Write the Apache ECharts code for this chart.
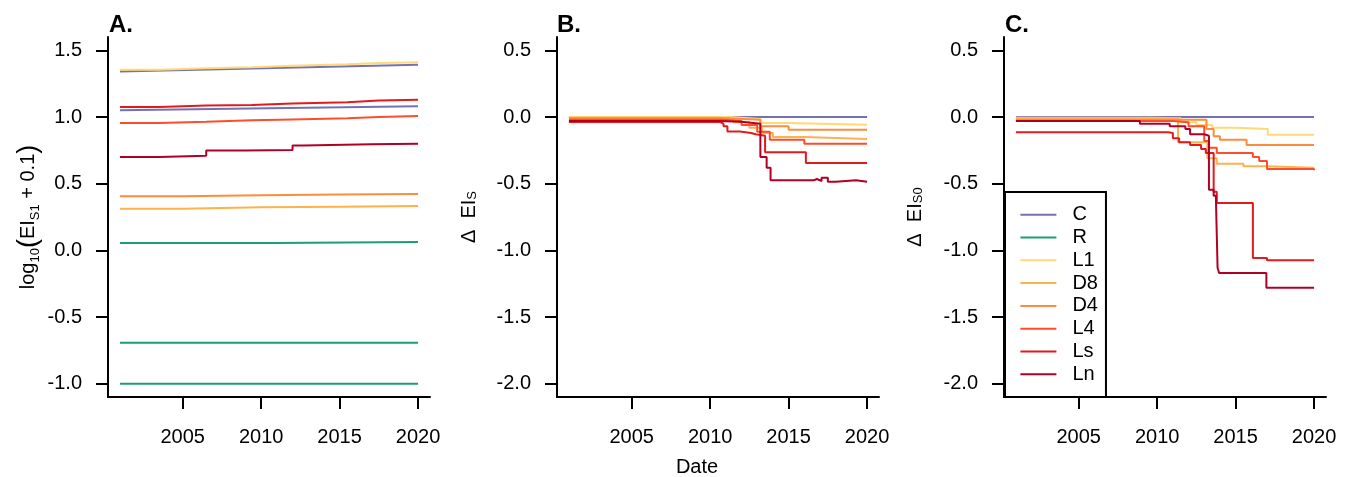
<!DOCTYPE html>
<html>
<head>
<meta charset="utf-8">
<script src="https://cdn.jsdelivr.net/npm/echarts@6/dist/echarts.min.js"></script>
<style>
  html, body { margin: 0; padding: 0; background: #fff; }
  #chart { width: 1356px; height: 477px; }
</style>
</head>
<body>
<div id="chart"></div>
<script>
// group names and colours (legend order)
const groups = ['C', 'R', 'L1', 'D8', 'D4', 'L4', 'Ls', 'Ln'];
const colors = ['#7570B3', '#1B9E77', '#FED976', '#FEB24C', '#FD8D3C', '#FC4E2A', '#E31A1C', '#B10026'];

const xTicks = [2005, 2010, 2015, 2020];
const yTicksA = [-1, -0.5, 0, 0.5, 1, 1.5];
const yTicksBC = [-2, -1.5, -1, -0.5, 0, 0.5];

// A. log10(EI_S1 + 0.1)  -- [year, value], value holds from that year on
const aC1 = [[2001, 1.342], [2020, 1.392]];
const aC2 = [[2001, 1.05], [2020, 1.08]];
const aR1 = [[2001, 0.055], [2010.8, 0.062], [2020, 0.062]];
const aR2 = [[2001, -0.694], [2020, -0.694]];
const aR3 = [[2001, -1.0], [2020, -1.0]];
const aL1 = [[2001, 1.355], [2003.5, 1.365], [2006.5, 1.374], [2009.4, 1.385], [2012, 1.395], [2015.5, 1.405], [2017.5, 1.41], [2020, 1.412]];
const aD8 = [[2001, 0.312], [2005, 0.323], [2010, 0.327], [2015, 0.332], [2020, 0.335]];
const aD4 = [[2001, 0.405], [2005, 0.414], [2010, 0.418], [2015, 0.423], [2020, 0.426]];
const aL4 = [[2001, 0.955], [2003.5, 0.965], [2006.5, 0.975], [2009.4, 0.982], [2012, 0.99], [2015.5, 1.0], [2017.5, 1.008], [2020, 1.012]];
const aLs = [[2001, 1.075], [2003.5, 1.086], [2006.5, 1.09], [2009.4, 1.102], [2012, 1.11], [2015.5, 1.124], [2017.5, 1.13], [2020, 1.132]];
const aLn = [[2001, 0.70], [2003.5, 0.71], [2006.5, 0.748], [2009, 0.752], [2012, 0.787], [2012.7, 0.795], [2017, 0.80], [2020, 0.80]];

// B. delta EI_S
const bC = [[2001, 0], [2020, 0]];
const bL1 = [[2001, 0], [2011.3, -0.015], [2013.2, -0.045], [2015, -0.058], [2020, -0.062]];
const bD8 = [[2001, -0.005], [2010.5, -0.015], [2011.5, -0.04], [2012.5, -0.08], [2013.3, -0.12], [2014, -0.15], [2016, -0.165], [2020, -0.165]];
const bD4 = [[2001, -0.01], [2011, -0.02], [2013.2, -0.07], [2015, -0.095], [2020, -0.097]];
const bL4 = [[2001, -0.02], [2010.8, -0.03], [2012, -0.06], [2013, -0.11], [2013.8, -0.17], [2016, -0.2], [2020, -0.205]];
const bLs = [[2001, -0.037], [2010.6, -0.05], [2010.85, -0.07], [2011.1, -0.108], [2011.9, -0.12], [2012.6, -0.13], [2012.9, -0.14], [2013.5, -0.265], [2016.1, -0.345], [2020, -0.345]];
const bLn = [[2001, -0.03], [2010.5, -0.035], [2012, -0.05], [2013.2, -0.3], [2013.6, -0.38], [2013.85, -0.475], [2014.3, -0.49], [2014.4, -0.475], [2016.6, -0.465], [2016.8, -0.48], [2017.1, -0.455], [2017.5, -0.485], [2018, -0.475], [2019.3, -0.485], [2020, -0.485]];

// C. delta EI_S0
const cC = [[2001, 0], [2020, 0]];
const cL1 = [[2001, -0.005], [2009.5, -0.01], [2011.5, -0.04], [2012.5, -0.06], [2013.5, -0.08], [2015, -0.09], [2017.05, -0.133], [2020, -0.133]];
const cD8 = [[2001, -0.01], [2011.33, -0.19], [2013.2, -0.31], [2013.8, -0.35], [2015.5, -0.37], [2017, -0.38], [2020, -0.38]];
const cD4 = [[2001, -0.02], [2013.14, -0.09], [2013.6, -0.145], [2014, -0.17], [2015.7, -0.21], [2020, -0.21]];
const cL4 = [[2001, -0.03], [2011, -0.04], [2012, -0.07], [2013, -0.18], [2013.3, -0.23], [2013.8, -0.27], [2016.1, -0.3], [2016.5, -0.33], [2017, -0.39], [2020, -0.40]];
const cLs = [[2001, -0.115], [2010.7, -0.12], [2011, -0.16], [2011.4, -0.19], [2012.1, -0.21], [2012.8, -0.24], [2013.1, -0.27], [2013.6, -0.56], [2013.8, -0.645], [2016.1, -1.057], [2017, -1.075], [2020, -1.075]];
const cLn = [[2001, -0.03], [2008.9, -0.05], [2010.8, -0.07], [2011.8, -0.09], [2012.1, -0.13], [2013, -0.14], [2013.3, -0.545], [2013.6, -0.59], [2013.75, -0.64], [2013.85, -1.13], [2013.95, -1.17], [2016.96, -1.28], [2020, -1.28]];

const FONT = "'Liberation Sans', Arial, Helvetica, sans-serif";
const X_MIN = 2000.24, X_MAX = 2020.76;

const panels = [
  [['C', aC1, false], ['C', aC2, false], ['R', aR1], ['R', aR2], ['R', aR3], ['L1', aL1], ['D8', aD8], ['D4', aD4], ['L4', aL4], ['Ls', aLs], ['Ln', aLn]],
  [['C', bC], ['L1', bL1], ['D8', bD8], ['D4', bD4], ['L4', bL4], ['Ls', bLs], ['Ln', bLn]],
  [['C', cC], ['L1', cL1], ['D8', cD8], ['D4', cD4], ['L4', cL4], ['Ls', cLs], ['Ln', cLn]],
];

const series = [];
panels.forEach((list, gi) => {
  list.forEach(([name, data, stepped]) => {
    series.push({
      name: name,
      type: 'line',
      xAxisIndex: gi,
      yAxisIndex: gi,
      data: data,
      step: stepped === false ? false : 'end',
      showSymbol: false,
      symbol: 'none',
      silent: true,
      color: colors[groups.indexOf(name)],
      lineStyle: { width: 2 },
    });
  });
});

const axisLine = { show: true, onZero: false, lineStyle: { color: '#000', width: 2 } };
const tickStyle = { color: '#000', width: 2 };

function xAxisFor (gi, extra) {
  return Object.assign({
    type: 'value',
    gridIndex: gi,
    min: X_MIN,
    max: X_MAX,
    axisLine: axisLine,
    axisTick: { show: true, inside: false, length: 12, lineStyle: tickStyle, customValues: xTicks },
    axisLabel: {
      customValues: xTicks, margin: 30, fontSize: 20, color: '#000', fontFamily: FONT,
      formatter: (v) => String(Math.round(v)),
    },
    splitLine: { show: false },
  }, extra || {});
}

const subRich = {
  n: { fontSize: 20, fontFamily: FONT, color: '#000' },
  s: { fontSize: 13, fontFamily: FONT, color: '#000', verticalAlign: 'bottom' },
  p: { fontSize: 27, fontFamily: FONT, color: '#000' },
};

function yAxisFor (gi, min, max, ticks, name, gap) {
  return {
    type: 'value',
    gridIndex: gi,
    min: min,
    max: max,
    axisLine: axisLine,
    axisTick: { show: true, inside: false, length: 12, lineStyle: tickStyle, customValues: ticks },
    axisLabel: {
      customValues: ticks, margin: 26, fontSize: 20, color: '#000', fontFamily: FONT,
      formatter: (v) => v.toFixed(1),
    },
    splitLine: { show: false },
    name: name,
    nameLocation: 'middle',
    nameGap: gap,
    nameRotate: 90,
    nameTextStyle: { fontSize: 20, fontFamily: FONT, color: '#000', rich: subRich },
  };
}

const titleStyle = { fontSize: 24, fontWeight: 'bold', color: '#000', fontFamily: FONT };

const option = {
  animation: false,
  backgroundColor: '#fff',
  title: [
    { text: 'A.', left: 109, top: 13, padding: 0, textStyle: titleStyle },
    { text: 'B.', left: 557, top: 13, padding: 0, textStyle: titleStyle },
    { text: 'C.', left: 1005, top: 13, padding: 0, textStyle: titleStyle },
  ],
  grid: [
    { left: 108, top: 37, width: 322, height: 360, outerBoundsMode: 'none' },
    { left: 557, top: 37, width: 322, height: 360, outerBoundsMode: 'none' },
    { left: 1004, top: 37, width: 322, height: 360, outerBoundsMode: 'none' },
  ],
  xAxis: [
    xAxisFor(0),
    xAxisFor(1, {
      name: 'Date',
      nameLocation: 'middle',
      nameGap: 60,
      nameTextStyle: { fontSize: 20, fontFamily: FONT, color: '#000', padding: [0, 42, 0, 0] },
    }),
    xAxisFor(2),
  ],
  yAxis: [
    yAxisFor(0, -1.1, 1.6, yTicksA, '{n|log}{s|10}{p|(}{n|EI}{s|S1}{n| + 0.1}{p|)}', 66),
    yAxisFor(1, -2.1, 0.6, yTicksBC, '{n|Δ  EI}{s|S}', 78),
    yAxisFor(2, -2.1, 0.6, yTicksBC, '{n|Δ  EI}{s|S0}', 79),
  ],
  legend: {
    data: groups,
    orient: 'vertical',
    left: 1005,
    top: 192,
    icon: 'rect',
    itemWidth: 36,
    itemHeight: 2,
    itemGap: 2.8,
    padding: [12.7, 8, 12.6, 15.4],
    borderColor: '#000',
    borderWidth: 2,
    borderRadius: 0,
    backgroundColor: '#fff',
    selectedMode: false,
    textStyle: { fontSize: 20, lineHeight: 20, color: '#000', fontFamily: FONT, padding: [0, 0, 0, 11] },
  },
  series: series,
};

const chart = echarts.init(document.getElementById('chart'));
chart.setOption(option);
</script>
</body>
</html>
